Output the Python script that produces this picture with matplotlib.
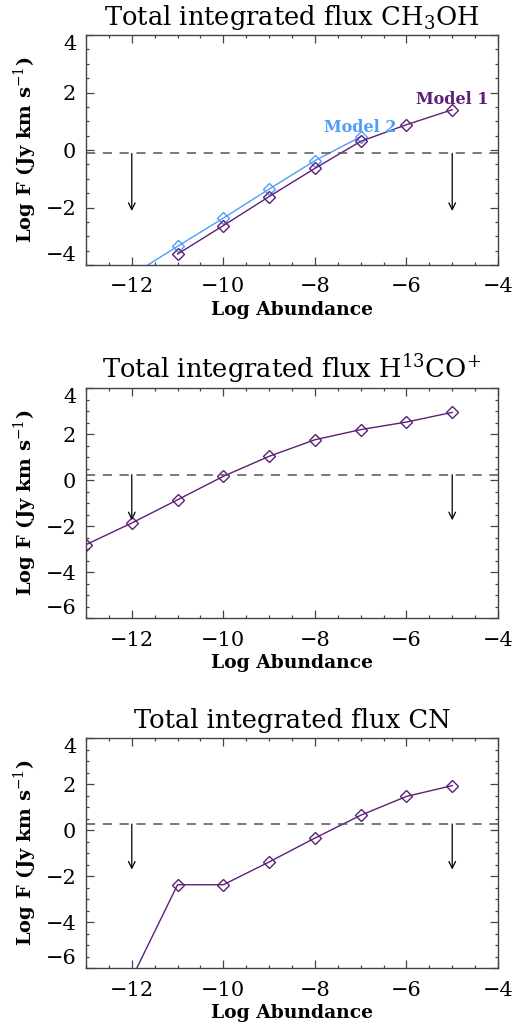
import matplotlib
matplotlib.use("Agg")
import matplotlib.pyplot as plt
from matplotlib.ticker import MultipleLocator

PURPLE = "#5c1f78"
BLUE = "#4d9dfc"

# log abundance grid
abund_ch3oh_m1 = [-11, -10, -9, -8, -7, -6, -5]
flux_ch3oh_m1 = [-3.62, -2.63, -1.62, -0.64, 0.30, 0.88, 1.40]
abund_ch3oh_m2 = [-12, -11, -10, -9, -8, -7]
flux_ch3oh_m2 = [-4.35, -3.35, -2.37, -1.36, -0.37, 0.46]

abund_h13co = [-13, -12, -11, -10, -9, -8, -7, -6, -5]
flux_h13co = [-2.81, -1.87, -0.86, 0.16, 1.03, 1.75, 2.19, 2.52, 2.94]

abund_cn = [-12, -11, -10, -9, -8, -7, -6, -5]
flux_cn = [-6.45, -2.38, -2.38, -1.39, -0.35, 0.64, 1.46, 1.93]

# observed upper limits (dashed level) and arrow positions
limit_levels = [-0.12, 0.23, 0.26]
arrow_ends = [-2.12, -1.75, -1.72]
arrow_x = [-12, -5]

titles = [
    r"Total integrated flux CH$_3$OH",
    r"Total integrated flux H$^{13}$CO$^{+}$",
    "Total integrated flux CN",
]
ylims = [(-4, 4), (-6, 4), (-6, 4)]

plt.rcParams["font.family"] = ["DejaVu Serif"]
plt.rcParams["mathtext.fontset"] = "dejavuserif"

fig = plt.figure(figsize=(5.31, 10.30), dpi=100)
W, H = 531, 1030
boxes = [(86, 35, 498, 265), (86, 388, 498, 618), (86, 738, 498, 968)]
axes = []
for (x0, y0, x1, y1) in boxes:
    axes.append(fig.add_axes([x0 / W, 1 - y1 / H, (x1 - x0) / W, (y1 - y0) / H]))


def style_axis(ax, ylim, title):
    ax.set_xlim(-13, -4)
    ax.set_ylim(*ylim)
    ax.xaxis.set_major_locator(MultipleLocator(2))
    ax.xaxis.set_minor_locator(MultipleLocator(0.5))
    ax.yaxis.set_major_locator(MultipleLocator(2))
    ax.yaxis.set_minor_locator(MultipleLocator(0.5))
    ax.tick_params(which="both", direction="in", top=True, right=True,
                   color="#444444", labelsize=15, width=0.9)
    ax.tick_params(which="major", length=6)
    ax.tick_params(axis="x", which="major", pad=9)
    ax.tick_params(axis="y", which="major", pad=7)
    ax.tick_params(which="minor", length=2.5)
    for sp in ax.spines.values():
        sp.set_color("#444444")
        sp.set_linewidth(1.0)
    ax.set_title(title, fontsize=18.5, pad=7)
    ax.set_xlabel("Log Abundance", fontsize=13.5, fontweight="bold", labelpad=3)
    ax.set_ylabel(r"Log F (Jy km s$^{-1}$)", fontsize=14, fontweight="bold",
                  labelpad=5)
    # edge labels sit inside the axis range, like the original
    ticks = ax.yaxis.get_major_ticks()
    locs = ax.yaxis.get_majorticklocs()
    for t, loc in zip(ticks, locs):
        if abs(loc - ylim[0]) < 1e-6:
            t.label1.set_va("bottom")
        elif abs(loc - ylim[1]) < 1e-6:
            t.label1.set_va("top")


def draw_limit(ax, level, end):
    ax.axhline(level, color="#555555", lw=1.1, ls=(0, (6, 5)))
    for xa in arrow_x:
        ax.annotate("", xy=(xa, end), xytext=(xa, level),
                    arrowprops=dict(arrowstyle="->", color="black", lw=0.9,
                                    mutation_scale=12, shrinkA=0, shrinkB=0))


def plot_model(ax, xs, ys, color):
    ax.plot(xs, ys, color=color, lw=1.0, marker="D", ms=6, mfc="none",
            mec=color, mew=1.0)


ax = axes[0]
plot_model(ax, abund_ch3oh_m2, flux_ch3oh_m2, BLUE)
plot_model(ax, abund_ch3oh_m1, flux_ch3oh_m1, PURPLE)
draw_limit(ax, limit_levels[0], arrow_ends[0])
ax.text(-5.0, 1.75, "Model 1", color=PURPLE, fontsize=11.5, fontweight="bold",
        ha="center", va="center")
ax.text(-7.0, 0.77, "Model 2", color=BLUE, fontsize=11.5, fontweight="bold",
        ha="center", va="center")

ax = axes[1]
plot_model(ax, abund_h13co, flux_h13co, PURPLE)
draw_limit(ax, limit_levels[1], arrow_ends[1])

ax = axes[2]
plot_model(ax, abund_cn, flux_cn, PURPLE)
draw_limit(ax, limit_levels[2], arrow_ends[2])

for ax, ylim, title in zip(axes, ylims, titles):
    style_axis(ax, ylim, title)

fig.savefig("out.png", dpi=100)
